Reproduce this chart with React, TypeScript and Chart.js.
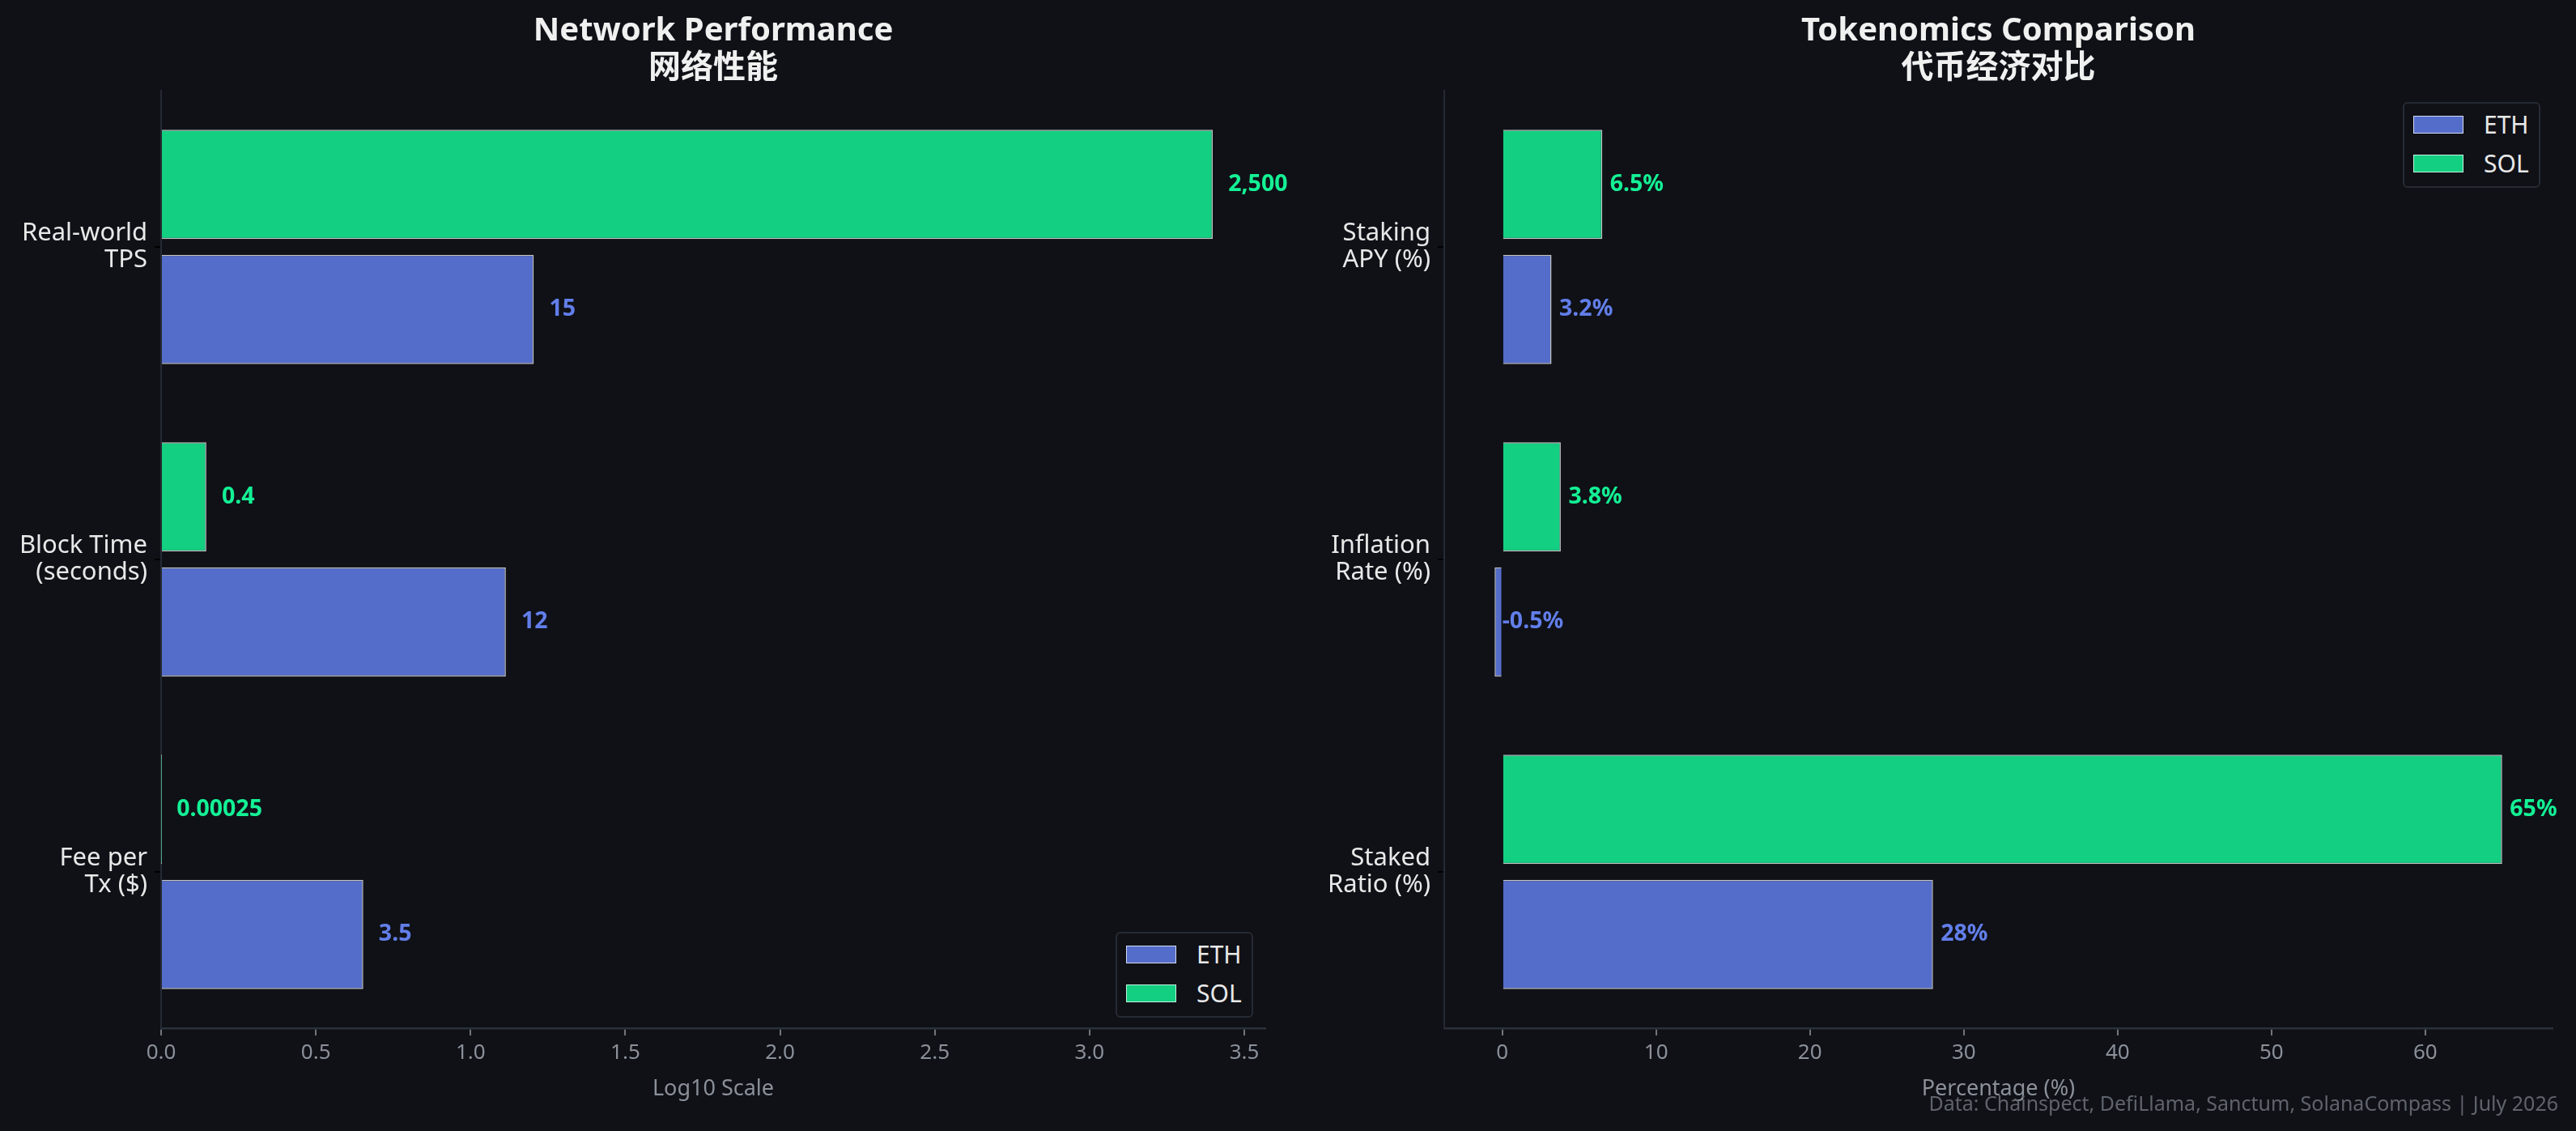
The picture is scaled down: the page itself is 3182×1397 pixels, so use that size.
import React, { useEffect, useRef } from 'react';
import { Chart, registerables } from 'chart.js';
Chart.register(...registerables);

// ---- data ----
const perfCategories = [['Real-world', 'TPS'], ['Block Time', '(seconds)'], ['Fee per', 'Tx ($)']];
const perfEth = [15, 12, 3.5];
const perfSol = [2500, 0.4, 0.00025];
const perfTicks = [0, 0.5, 1, 1.5, 2, 2.5, 3, 3.5];

const tokenCategories = [['Staking', 'APY (%)'], ['Inflation', 'Rate (%)'], ['Staked', 'Ratio (%)']];
const tokenEth = [3.2, -0.5, 28];
const tokenSol = [6.5, 3.8, 65];
const tokenTicks = [0, 10, 20, 30, 40, 50, 60];

const seriesNames = ['ETH', 'SOL'];

// ---- style ----
const BG = '#0f1117';
const FONT = "'Noto Sans', 'Noto Sans CJK SC', sans-serif";
const ETH_FILL = 'rgba(98, 126, 234, 0.85)';
const SOL_FILL = 'rgba(20, 241, 149, 0.85)';
const ETH_TEXT = '#627EEA';
const SOL_TEXT = '#14F195';
const EDGE = 'rgba(255, 255, 255, 0.75)';

const fmtNum = (v: number) => v.toLocaleString('en-US', { maximumFractionDigits: 5 });

// draws value text just after each bar end
const valueLabels = (texts: string[][], offset: number) => ({
  id: 'valueLabels',
  afterDatasetsDraw(chart: any) {
    const ctx = chart.ctx;
    const xs = chart.scales.x;
    ctx.save();
    ctx.font = `bold 28.5px ${FONT}`;
    ctx.textAlign = 'left';
    ctx.textBaseline = 'middle';
    chart.data.datasets.forEach((ds: any, di: number) => {
      const meta = chart.getDatasetMeta(di);
      ctx.fillStyle = ds.labelColor;
      meta.data.forEach((bar: any, i: number) => {
        const x = xs.getPixelForValue(ds.data[i] + offset);
        ctx.fillText(texts[di][i], x, bar.y);
      });
    });
    ctx.restore();
  },
});

type PanelProps = {
  categories: string[][];
  eth: number[];
  sol: number[];
  ethText: string[];
  solText: string[];
  ticks: number[];
  min: number;
  max: number;
  labelOffset: number;
  tickFmt: (v: number) => string;
  title: string[];
  xTitle: string;
  yWidth: number;
  padRight: number;
  width: number;
};

const Panel = (p: PanelProps) => {
  const canvasRef = useRef<HTMLCanvasElement | null>(null);

  useEffect(() => {
    if (!canvasRef.current) return;
    const step = p.ticks[1] - p.ticks[0];
    const chart = new Chart(canvasRef.current, {
      type: 'bar',
      data: {
        labels: p.categories,
        datasets: [
          // SOL first so it sits above ETH inside each group
          {
            label: seriesNames[1],
            data: p.sol,
            backgroundColor: SOL_FILL,
            borderColor: EDGE,
            borderWidth: 1.5,
            labelColor: SOL_TEXT,
            barPercentage: 0.875,
            categoryPercentage: 0.8,
          } as any,
          {
            label: seriesNames[0],
            data: p.eth,
            backgroundColor: ETH_FILL,
            borderColor: EDGE,
            borderWidth: 1.5,
            labelColor: ETH_TEXT,
            barPercentage: 0.875,
            categoryPercentage: 0.8,
          } as any,
        ],
      },
      options: {
        indexAxis: 'y',
        animation: false,
        responsive: false,
        devicePixelRatio: 1,
        layout: { padding: { left: 0, right: p.padRight, top: 0, bottom: 0 } },
        plugins: {
          legend: { display: false },
          tooltip: { enabled: false },
          title: {
            display: true,
            text: p.title,
            color: '#f0f0f0',
            font: { family: FONT, size: 40, weight: 'bold', lineHeight: 1.15 },
            padding: { top: 16, bottom: 4 },
            fullSize: false,
          },
        },
        scales: {
          x: {
            type: 'linear',
            min: p.min,
            max: p.max,
            afterFit: (s: any) => {
              s.height = 127;
            },
            grid: {
              display: true,
              drawOnChartArea: false,
              drawTicks: true,
              tickLength: 9,
              tickColor: '#70757e',
              lineWidth: 2,
            },
            border: { display: true, color: '#2b303a', width: 2.5 },
            ticks: {
              stepSize: step,
              includeBounds: false,
              color: '#8b9099',
              font: { family: FONT, size: 26 },
              padding: 6,
              maxRotation: 0,
              callback: (v: any) => p.tickFmt(Number(v)),
            },
            title: {
              display: true,
              text: p.xTitle,
              color: '#8b9099',
              font: { family: FONT, size: 27 },
              padding: { top: 0, bottom: 35 },
            },
          },
          y: {
            type: 'category',
            offset: true,
            afterFit: (s: any) => {
              s.width = p.yWidth;
            },
            grid: {
              display: true,
              offset: false,
              drawOnChartArea: false,
              tickLength: 8,
              tickColor: '#000000',
              lineWidth: 2,
            },
            border: { display: true, color: '#262a33', width: 2 },
            ticks: {
              color: '#e8e8e8',
              font: { family: FONT, size: 31, lineHeight: 1.07 },
              padding: 9,
            },
          },
        },
      },
      plugins: [
        valueLabels([p.solText, p.ethText], p.labelOffset),
      ],
    } as any);
    return () => chart.destroy();
  }, []);

  return <canvas ref={canvasRef} width={p.width} height={1397} style={{ width: p.width, height: 1397, display: 'block' }} />;
};

const Legend = ({ left, top }: { left: number; top: number }) => {
  const items = [
    { name: seriesNames[0], fill: ETH_FILL },
    { name: seriesNames[1], fill: SOL_FILL },
  ];
  return (
    <div
      style={{
        position: 'absolute',
        left,
        top,
        width: 170,
        height: 106,
        boxSizing: 'border-box',
        border: '2.5px solid #262a33',
        borderRadius: 6,
        background: BG,
      }}
    >
      {items.map((it, i) => (
        <div key={it.name} style={{ position: 'absolute', left: 11, top: 14 + i * 48, height: 24, display: 'flex', alignItems: 'center' }}>
          <div style={{ width: 62, height: 22, boxSizing: 'border-box', background: it.fill, border: `1.5px solid ${EDGE}` }} />
          <span style={{ marginLeft: 25, color: '#e8e8e8', fontFamily: FONT, fontSize: 30, lineHeight: '24px' }}>{it.name}</span>
        </div>
      ))}
    </div>
  );
};

export default function App() {
  const log1 = (v: number) => Math.log10(v + 1);
  return (
    <div style={{ position: 'fixed', left: 0, top: 0, width: 3182, height: 1397, background: BG, overflow: 'hidden' }}>
      <div style={{ position: 'absolute', left: 0, top: 0 }}>
        <Panel
          categories={perfCategories}
          eth={perfEth.map(log1)}
          sol={perfSol.map(log1)}
          ethText={perfEth.map(fmtNum)}
          solText={perfSol.map(fmtNum)}
          ticks={perfTicks}
          min={0}
          max={log1(Math.max(...perfSol)) * 1.05}
          labelOffset={0.05}
          tickFmt={(v) => v.toFixed(1)}
          title={['Network Performance', '网络性能']}
          xTitle="Log10 Scale"
          yWidth={199}
          padRight={27}
          width={1590}
        />
      </div>
      <div style={{ position: 'absolute', left: 1590, top: 0 }}>
        <Panel
          categories={tokenCategories}
          eth={tokenEth}
          sol={tokenSol}
          ethText={tokenEth.map((v) => `${v}%`)}
          solText={tokenSol.map((v) => `${v}%`)}
          ticks={tokenTicks}
          min={-0.5 - 65.5 * 0.05}
          max={65 + 65.5 * 0.05}
          labelOffset={0.5}
          tickFmt={(v) => `${v}`}
          title={['Tokenomics Comparison', '代币经济对比']}
          xTitle="Percentage (%)"
          yWidth={194}
          padRight={29}
          width={1592}
        />
      </div>
      <Legend left={1378} top={1151} />
      <Legend left={2968} top={126} />
      <div
        style={{
          position: 'absolute',
          right: 22,
          top: 1362,
          transform: 'translateY(-50%)',
          color: '#5f636b',
          fontFamily: FONT,
          fontSize: 25,
          whiteSpace: 'nowrap',
        }}
      >
        Data: Chainspect, DefiLlama, Sanctum, SolanaCompass | July 2026
      </div>
    </div>
  );
}
